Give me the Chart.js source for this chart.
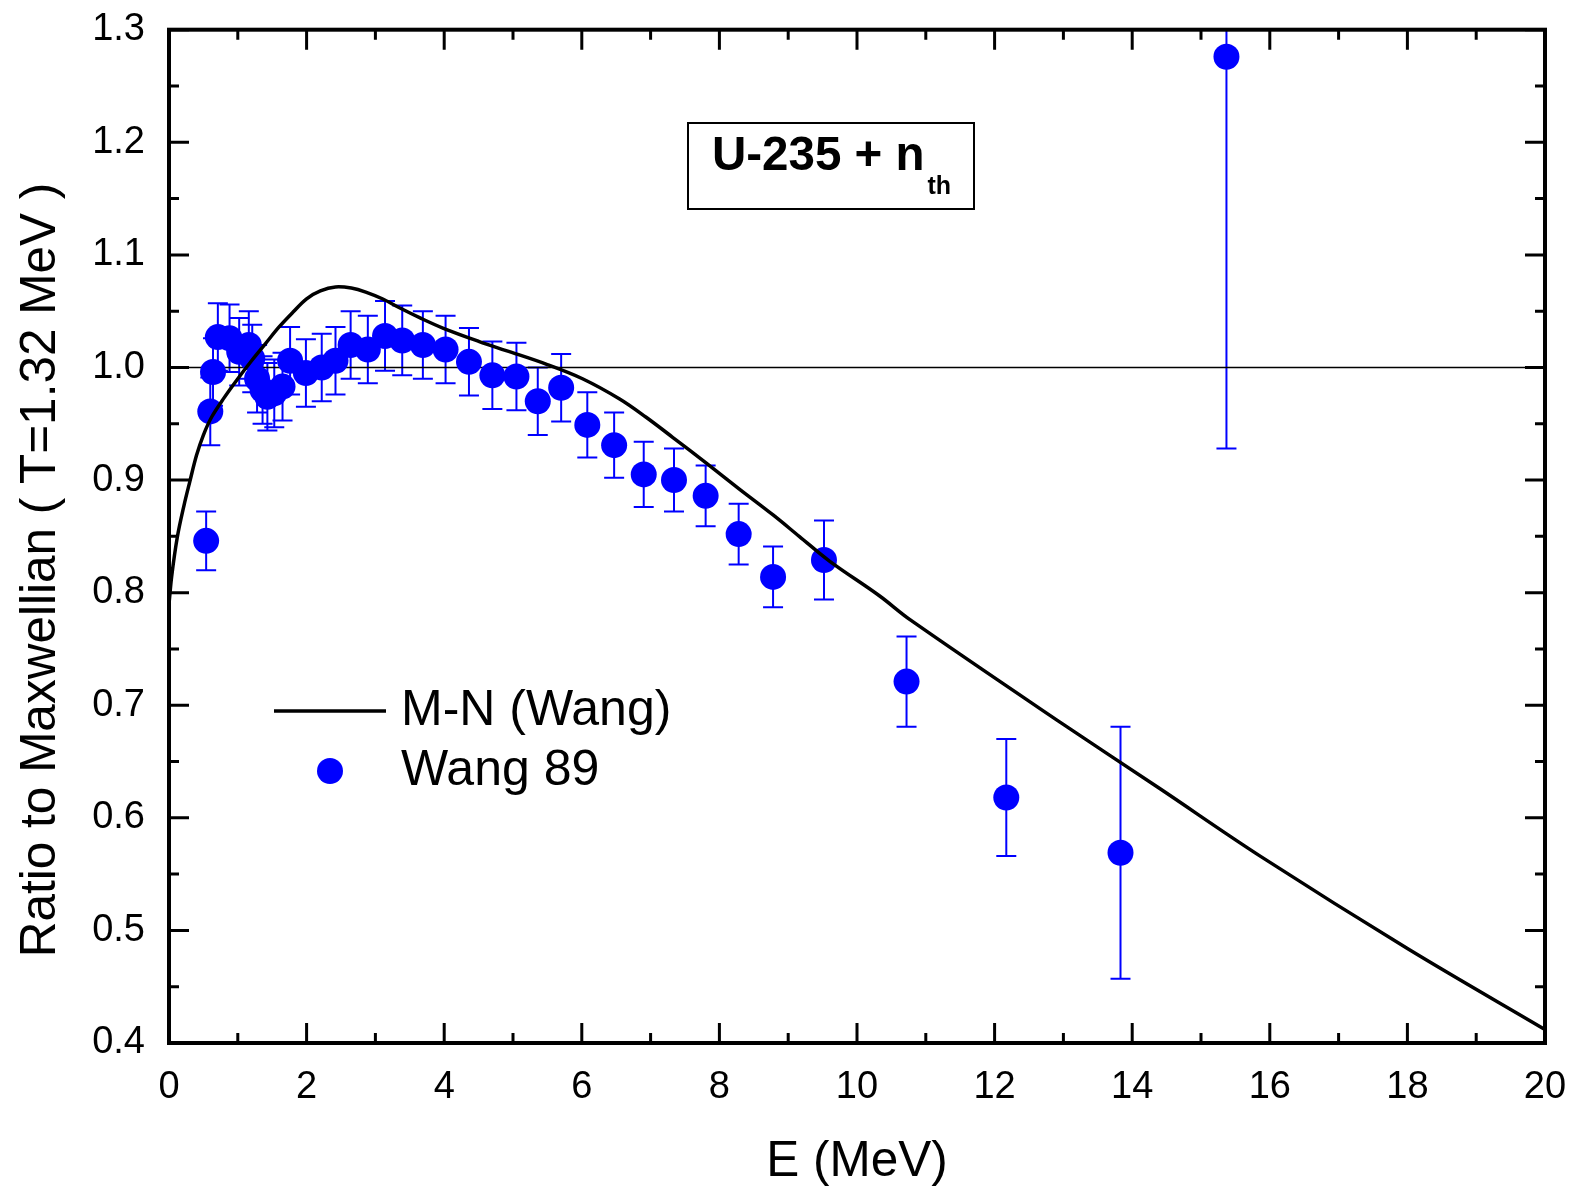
<!DOCTYPE html>
<html><head><meta charset="utf-8">
<script src="https://cdn.jsdelivr.net/npm/chart.js@4.4.1/dist/chart.umd.min.js"></script>
<style>html,body{margin:0;padding:0;background:#fff}#wrap{width:1574px;height:1190px}</style>
</head><body><div id="wrap"><canvas id="c" width="1574" height="1190"></canvas></div>
<script>
// M-N (Wang) calculated curve
const curveE     = [0, 0.04, 0.12, 0.22, 0.30, 0.40, 0.50, 0.62, 0.80, 1.00, 1.20, 1.40, 1.60, 1.80, 2.00, 2.20, 2.42, 2.65, 2.86, 3.10, 3.35, 3.65, 3.98, 4.51, 4.90, 5.48, 6.01, 6.55, 6.93, 7.32, 7.81, 8.29, 8.78, 9.16, 9.60, 10.33, 10.77, 12.95, 14.40, 15.86, 18.0, 20.0];
const curveRatio = [0.79, 0.815, 0.849, 0.878, 0.898, 0.922, 0.940, 0.956, 0.973, 0.990, 1.006, 1.021, 1.036, 1.049, 1.061, 1.068, 1.0715, 1.0705, 1.067, 1.061, 1.053, 1.044, 1.035, 1.023, 1.015, 1.003, 0.990, 0.972, 0.956, 0.938, 0.915, 0.892, 0.869, 0.850, 0.828, 0.797, 0.776, 0.685, 0.626, 0.566, 0.484, 0.412];
// Wang 89 experimental points
const dataE     = [0.54, 0.60, 0.64, 0.71, 0.88, 1.02, 1.16, 1.21, 1.28, 1.36, 1.43, 1.53, 1.65, 1.76, 1.99, 2.22, 2.42, 2.64, 2.89, 3.14, 3.39, 3.69, 4.02, 4.36, 4.70, 5.05, 5.36, 5.70, 6.08, 6.47, 6.90, 7.34, 7.80, 8.28, 8.78, 9.52, 10.72, 12.17, 13.83, 15.37];
const dataRatio = [0.846, 0.961, 0.996, 1.027, 1.026, 1.014, 1.020, 1.008, 0.990, 0.980, 0.974, 0.977, 0.983, 1.006, 0.995, 1.000, 1.006, 1.020, 1.016, 1.028, 1.024, 1.020, 1.016, 1.005, 0.993, 0.992, 0.970, 0.982, 0.949, 0.931, 0.905, 0.900, 0.886, 0.852, 0.814, 0.829, 0.721, 0.618, 0.569, 1.276];
const dataErr   = [0.026, 0.030, 0.030, 0.030, 0.030, 0.030, 0.030, 0.030, 0.030, 0.030, 0.030, 0.030, 0.030, 0.030, 0.030, 0.030, 0.030, 0.030, 0.030, 0.031, 0.031, 0.030, 0.030, 0.030, 0.030, 0.030, 0.030, 0.030, 0.029, 0.029, 0.029, 0.028, 0.027, 0.027, 0.027, 0.035, 0.040, 0.052, 0.112, 0.348];
const refE      = [0, 20];
const refRatio  = [1.0, 1.0];
const xTickVals = [0, 2, 4, 6, 8, 10, 12, 14, 16, 18, 20];
const yTickVals = [0.4, 0.5, 0.6, 0.7, 0.8, 0.9, 1.0, 1.1, 1.2, 1.3];
const xMinorStep = 1, yMinorStep = 0.05;

const FONT = '"Liberation Sans", Arial, Helvetica, sans-serif';
const BLUE = '#0000ff';

const errorBarPlugin = {
  id: 'errorBars',
  beforeDatasetsDraw(chart) {
    const {ctx, chartArea: a, scales: {x, y}} = chart;
    ctx.save();
    ctx.beginPath(); ctx.rect(a.left, a.top, a.right - a.left, a.bottom - a.top); ctx.clip();
    ctx.strokeStyle = BLUE; ctx.lineWidth = 2;
    for (let i = 0; i < dataE.length; i++) {
      const px = x.getPixelForValue(dataE[i]);
      const pt = y.getPixelForValue(dataRatio[i] + dataErr[i]);
      const pb = y.getPixelForValue(dataRatio[i] - dataErr[i]);
      ctx.beginPath();
      ctx.moveTo(px, pt); ctx.lineTo(px, pb);
      ctx.moveTo(px - 10, pt); ctx.lineTo(px + 10, pt);
      ctx.moveTo(px - 10, pb); ctx.lineTo(px + 10, pb);
      ctx.stroke();
    }
    ctx.restore();
  }
};

const framePlugin = {
  id: 'frame',
  afterDatasetsDraw(chart) {
    const {ctx, chartArea: a, scales: {x, y}} = chart;
    ctx.save();
    ctx.strokeStyle = '#000';
    ctx.lineWidth = 3;
    ctx.lineCap = 'butt';
    ctx.beginPath();
    for (let v = 0; v <= 20 + 1e-9; v += xMinorStep) {
      const px = x.getPixelForValue(v);
      const len = (Math.round(v) % 2 === 0) ? 20 : 10;
      ctx.moveTo(px, a.bottom); ctx.lineTo(px, a.bottom - len);
      ctx.moveTo(px, a.top); ctx.lineTo(px, a.top + len);
    }
    for (let k = 0; k <= 18; k++) {
      const v = 0.4 + k * yMinorStep;
      const py = y.getPixelForValue(v);
      const len = (k % 2 === 0) ? 20 : 10;
      ctx.moveTo(a.left, py); ctx.lineTo(a.left + len, py);
      ctx.moveTo(a.right, py); ctx.lineTo(a.right - len, py);
    }
    ctx.stroke();
    ctx.lineWidth = 4;
    ctx.strokeRect(a.left, a.top, a.right - a.left, a.bottom - a.top);
    ctx.restore();
  }
};

const textPlugin = {
  id: 'texts',
  afterDraw(chart) {
    const {ctx} = chart;
    ctx.save();
    // y axis title
    ctx.fillStyle = '#000';
    ctx.font = '49.5px ' + FONT;
    ctx.textAlign = 'center'; ctx.textBaseline = 'middle';
    ctx.translate(41, 570); ctx.rotate(-Math.PI / 2);
    ctx.fillText('Ratio to Maxwellian ( T=1.32 MeV )', 0, 0);
    ctx.setTransform(1, 0, 0, 1, 0, 0);
    // legend
    ctx.strokeStyle = '#000'; ctx.lineWidth = 3.5;
    ctx.beginPath(); ctx.moveTo(274, 711); ctx.lineTo(386, 711); ctx.stroke();
    ctx.fillStyle = BLUE;
    ctx.beginPath(); ctx.arc(330, 771, 13, 0, Math.PI * 2); ctx.fill();
    ctx.fillStyle = '#000';
    ctx.textAlign = 'left'; ctx.textBaseline = 'middle';
    ctx.font = '50px ' + FONT;
    ctx.fillText('M-N (Wang)', 401, 711);
    ctx.fillText('Wang 89', 401, 771);
    // annotation box
    ctx.lineWidth = 2;
    ctx.strokeRect(688, 123, 286, 86);
    ctx.textBaseline = 'alphabetic';
    ctx.font = 'bold 47.5px ' + FONT;
    const main = 'U-235 + n';
    ctx.fillText(main, 712, 170);
    const w = ctx.measureText(main).width;
    ctx.font = 'bold 25px ' + FONT;
    ctx.fillText('th', 712 + w + 3, 194);
    ctx.restore();
  }
};

new Chart(document.getElementById('c'), {
  type: 'scatter',
  data: {
    datasets: [
      {
        label: 'M-N (Wang)',
        data: curveE.map((e, i) => ({x: e, y: curveRatio[i]})),
        showLine: true, borderColor: '#000', borderWidth: 3.5,
        pointRadius: 0, tension: 0.35, order: 0
      },
      {
        label: 'Wang 89',
        data: dataE.map((e, i) => ({x: e, y: dataRatio[i]})),
        showLine: false, pointRadius: 13, pointBackgroundColor: BLUE,
        pointBorderWidth: 0, borderColor: BLUE, order: 1
      },
      {
        label: 'ref',
        data: refE.map((e, i) => ({x: e, y: refRatio[i]})),
        showLine: true, borderColor: '#000', borderWidth: 1.5, pointRadius: 0, order: 2
      }
    ]
  },
  options: {
    responsive: false, animation: false,
    layout: {padding: {left: 0, right: 29, top: 29.7, bottom: 0}},
    plugins: {legend: {display: false}, tooltip: {enabled: false}},
    scales: {
      x: {
        type: 'linear', min: 0, max: 20,
        afterFit(s) { s.height = 147; s.paddingLeft = 0; s.paddingRight = 0; },
        afterBuildTicks(s) { s.ticks = xTickVals.map(v => ({value: v})); },
        grid: {display: false, drawTicks: false}, border: {display: false},
        ticks: {color: '#000', padding: 22, font: {family: FONT, size: 38}, maxRotation: 0,
                callback: v => String(v)},
        title: {display: true, text: 'E (MeV)', color: '#000', font: {family: FONT, size: 49.5, lineHeight: 1.1},
                padding: {top: 0, bottom: 0}}
      },
      y: {
        type: 'linear', min: 0.4, max: 1.3,
        afterFit(s) { s.width = 169; s.paddingTop = 0; s.paddingBottom = 0; },
        afterBuildTicks(s) { s.ticks = yTickVals.map(v => ({value: v})); },
        grid: {display: false, drawTicks: false}, border: {display: false},
        ticks: {color: '#000', padding: 24, font: {family: FONT, size: 38},
                callback: v => Number(v).toFixed(1)}
      }
    }
  },
  plugins: [errorBarPlugin, framePlugin, textPlugin]
});
</script></body></html>
